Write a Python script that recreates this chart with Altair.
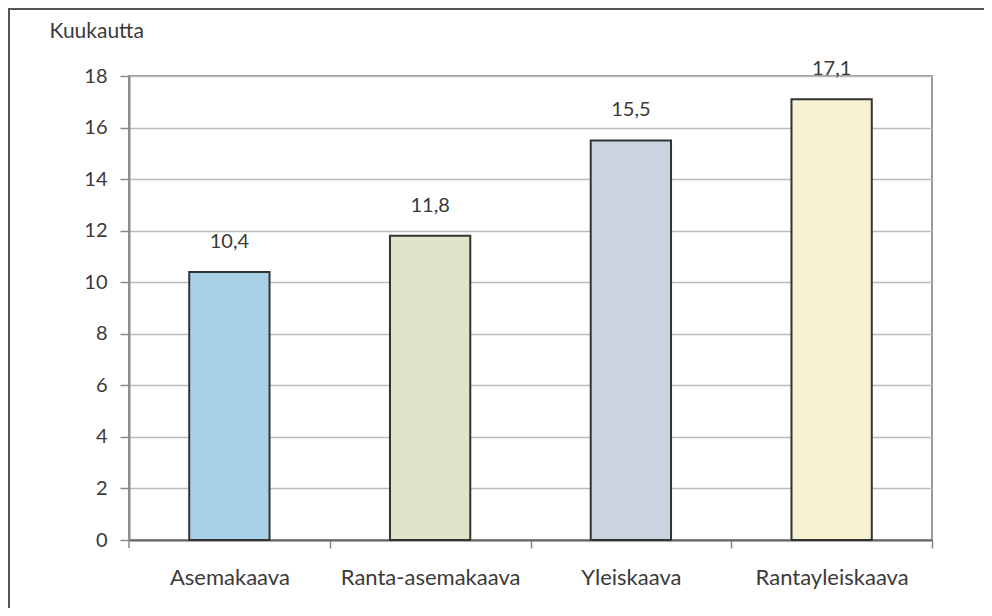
import altair as alt
import pandas as pd

categories = ["Asemakaava", "Ranta-asemakaava", "Yleiskaava", "Rantayleiskaava"]
values = [10.4, 11.8, 15.5, 17.1]
value_labels = ["10,4", "11,8", "15,5", "17,1"]
colors = ["#a9d1e6", "#dfe4c9", "#ccd3e0", "#f7f1d0"]
y_ticks = [0, 2, 4, 6, 8, 10, 12, 14, 16, 18]

df = pd.DataFrame({"kaava": categories, "kk": values, "label": value_labels})

FONT = "Lato"
TXT = "#3a3a3a"
HALF_STEP = 803 / 4 / 2

x_enc = alt.X(
    "kaava:N",
    sort=categories,
    scale=alt.Scale(paddingInner=0.6, paddingOuter=0.3),
    axis=alt.Axis(
        title=None,
        labelAngle=0,
        labelFont=FONT,
        labelFontSize=22,
        labelColor=TXT,
        labelPadding=19,
        tickOffset=HALF_STEP,
        labelOffset=-HALF_STEP,
        tickSize=8,
        tickColor="#888888",
        tickWidth=1.5,
        domainColor="#666666",
        domainWidth=2,
        grid=False,
    ),
)

y_enc = alt.Y(
    "kk:Q",
    scale=alt.Scale(domain=[0, 18], nice=False),
    axis=alt.Axis(
        values=y_ticks,
        title="Kuukautta",
        titleAngle=0,
        titleAlign="left",
        titleBaseline="middle",
        titleX=-80,
        titleY=-45,
        titleFont=FONT,
        titleFontSize=21,
        titleFontWeight="normal",
        titleColor=TXT,
        labelFont=FONT,
        labelFontSize=20,
        labelColor=TXT,
        labelPadding=13,
        tickSize=9,
        tickColor="#888888",
        tickWidth=1.5,
        domainColor="#888888",
        domainWidth=2,
        grid=True,
        gridColor="#bbbbbb",
        gridWidth=1.5,
    ),
)

bars = alt.Chart(df).mark_bar(stroke="#333333", strokeWidth=2).encode(
    x=x_enc,
    y=y_enc,
    color=alt.Color("kaava:N", scale=alt.Scale(domain=categories, range=colors), legend=None),
)

text = alt.Chart(df).mark_text(
    font=FONT, fontSize=20, color=TXT, baseline="middle", dy=-30
).encode(
    x=alt.X("kaava:N", sort=categories),
    y=alt.Y("kk:Q"),
    text="label:N",
)

border_df = pd.DataFrame({"a": [0]})
top_line = alt.Chart(border_df).mark_rule(color="#555555", strokeWidth=2).encode(
    x=alt.value(-121), x2=alt.value(863), y=alt.value(-67)
)
left_line = alt.Chart(border_df).mark_rule(color="#555555", strokeWidth=2).encode(
    x=alt.value(-120), y=alt.value(-68), y2=alt.value(532)
)
corner_tick = alt.Chart(border_df).mark_rule(color="#888888", strokeWidth=1.5).encode(
    x=alt.value(0), y=alt.value(464), y2=alt.value(472)
)

chart = (
    alt.layer(bars, text, top_line, left_line, corner_tick)
    .properties(
        width=803,
        height=464,
        autosize=alt.AutoSizeParams(type="none"),
        padding={"left": 121, "top": 68, "right": 52, "bottom": 68},
        background="white",
    )
    .configure_view(stroke="#999999", strokeWidth=2)
)

chart.save("out.html", embed_options={"renderer": "svg", "actions": False})
